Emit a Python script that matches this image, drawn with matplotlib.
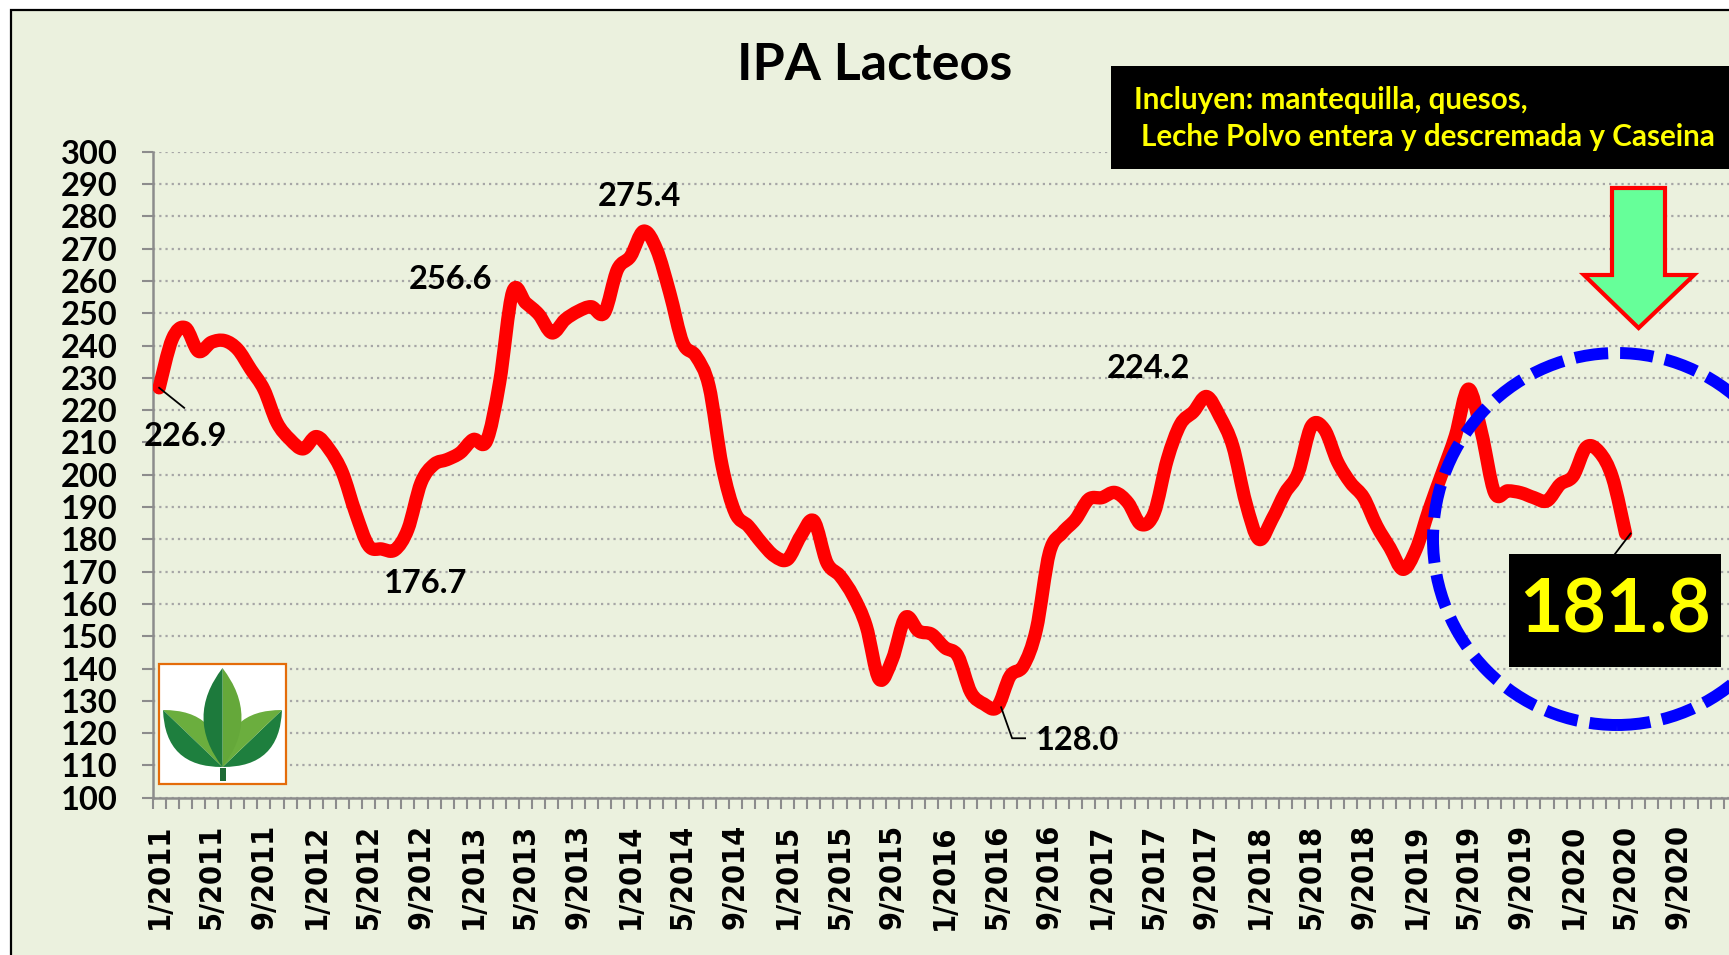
import numpy as np
import matplotlib
matplotlib.use('Agg')
import matplotlib.pyplot as plt
from matplotlib.path import Path
from matplotlib.patches import PathPatch, Rectangle, Ellipse, Polygon
from matplotlib.lines import Line2D
from matplotlib.transforms import IdentityTransform

W, H = 1729, 955

# IPA lacteos, mensual 1/2011 - 5/2020
ipa = [226.9, 242.0, 245.5, 238.2, 241.0, 241.5, 238.8, 232.6, 226.4, 216.1,
       210.9, 208.0, 211.8, 207.8, 200.6, 188.2, 178.0, 177.0, 176.7, 183.1,
       197.5, 203.2, 204.7, 206.8, 210.9, 210.4, 228.5, 256.6, 253.2, 249.6,
       243.9, 248.0, 250.6, 252.0, 250.1, 263.5, 267.6, 275.4, 269.7, 256.3,
       240.8, 236.7, 227.4, 202.7, 188.2, 184.1, 179.0, 174.8, 173.8, 181.0,
       185.7, 172.8, 168.7, 162.5, 153.2, 136.7, 142.9, 155.8, 151.6, 150.6,
       146.5, 143.9, 132.6, 129.0, 128.0, 137.7, 140.8, 152.1, 175.9, 182.1,
       186.2, 192.4, 192.9, 194.5, 191.3, 184.6, 188.2, 204.7, 215.6, 219.5,
       224.2, 218.1, 208.9, 191.3, 180.0, 186.2, 194.4, 200.6, 215.0, 214.0,
       204.0, 197.5, 192.9, 184.1, 177.4, 170.7, 176.9, 189.3, 200.6, 212.0,
       226.5, 213.0, 194.4, 195.0, 194.4, 192.9, 191.9, 197.0, 199.6, 208.5,
       207.0, 199.1, 181.8]

tick_labels = ['1/2011', '5/2011', '9/2011', '1/2012', '5/2012', '9/2012',
               '1/2013', '5/2013', '9/2013', '1/2014', '5/2014', '9/2014',
               '1/2015', '5/2015', '9/2015', '1/2016', '5/2016', '9/2016',
               '1/2017', '5/2017', '9/2017', '1/2018', '5/2018', '9/2018',
               '1/2019', '5/2019', '9/2019', '1/2020', '5/2020', '9/2020']
tick_step = 4

# puntos etiquetados: indice -> texto
point_labels = {0: '226.9', 18: '176.7', 27: '256.6', 37: '275.4', 64: '128.0', 80: '224.2'}
label_offsets = {0: (26, -49), 18: (31, -34), 27: (-62, 12), 37: (-4, 35), 64: (80, -33), 80: (-58, 28)}

bg = '#EBF1DE'


def fx(x):
    return x / W


def fy(y):
    return 1 - y / H


def smooth_path(xs, ys):
    pts = np.column_stack([xs, ys]).astype(float)
    n = len(pts)
    verts = [pts[0]]
    codes = [Path.MOVETO]
    for k in range(n - 1):
        p0 = pts[k - 1] if k > 0 else pts[k]
        p1 = pts[k]
        p2 = pts[k + 1]
        p3 = pts[k + 2] if k + 2 < n else pts[k + 1]
        verts += [p1 + (p2 - p0) / 6, p2 - (p3 - p1) / 6, p2]
        codes += [Path.CURVE4] * 3
    return Path(verts, codes)


fig = plt.figure(figsize=(W / 100, H / 100), dpi=100)
fig.patch.set_facecolor('white')

frame = Rectangle((fx(11), -0.05), 1.2, fy(10) + 0.05, transform=fig.transFigure,
                  facecolor=bg, edgecolor='black', lw=1.6, zorder=-5)
fig.add_artist(frame)

ax = fig.add_axes([fx(152.6), fy(797.7), (W - 152.6) / W, (797.7 - 151.7) / H])
ax.set_facecolor('none')
ax.set_xlim(-0.5, 119.9)
ax.set_ylim(100, 300)

for s in ['top', 'right']:
    ax.spines[s].set_visible(False)
for s in ['left', 'bottom']:
    ax.spines[s].set_color('#8C8C8C')
    ax.spines[s].set_linewidth(1.8)

ax.set_yticks(range(100, 301, 10))
ax.set_yticklabels([str(v) for v in range(100, 301, 10)],
                   fontfamily='Lato', fontweight='bold', fontsize=23.5)
ax.tick_params(axis='y', length=8, width=1.5, color='#8C8C8C', pad=17)

ax.set_xticks(np.arange(-0.5, 120, 1))
ax.set_xticklabels([])
ax.tick_params(axis='x', which='major', length=8, width=1.5, color='#8C8C8C')
ax.set_xticks(np.arange(0, len(tick_labels) * tick_step, tick_step), minor=True)
ax.set_xticklabels(tick_labels, minor=True, rotation=90, fontfamily='DejaVu Sans',
                   fontstretch='condensed', fontweight='bold', fontsize=22)
ax.tick_params(axis='x', which='minor', length=0, pad=19)

ax.yaxis.grid(True, color='#A6A6A6', linestyle=(0, (1, 1.8)), lw=1.6)
ax.set_axisbelow(True)

xs = np.arange(len(ipa))
line = PathPatch(smooth_path(xs, ipa), fill=False, edgecolor='#FF0000', lw=9.6,
                 capstyle='round', joinstyle='round', zorder=3)
ax.add_patch(line)

for i, txt in point_labels.items():
    ax.annotate(txt, xy=(i, ipa[i]), xytext=label_offsets[i], textcoords='offset pixels',
                ha='center', va='center', fontfamily='Lato', fontweight='bold',
                fontsize=23.5, zorder=6)


def add_px_line(pts, lw=1.3):
    p = np.array(pts, float)
    fig.add_artist(Line2D(p[:, 0], p[:, 1], transform=IdentityTransform(),
                          color='black', lw=lw, zorder=8))


# lineas guia de etiquetas
p0 = ax.transData.transform((0, ipa[0]))
add_px_line([p0, p0 + (25, -20)])
p64 = ax.transData.transform((64, ipa[64]))
add_px_line([p64 + (4, 0), p64 + (15, -31), p64 + (28, -31)])
pend = ax.transData.transform((len(ipa) - 1, ipa[-1]))
add_px_line([pend + (5, 0), pend + (-11, -21)])

# titulo
fig.text(fx(875), fy(66), 'IPA Lacteos', ha='center', va='center',
         fontfamily='Lato', fontweight='bold', fontsize=37.5)

# recuadro de texto
fig.add_artist(Rectangle((fx(1111), fy(169)), 0.5, (169 - 66) / H, transform=fig.transFigure,
                         facecolor='black', edgecolor='none', zorder=5))
fig.text(fx(1134), fy(100), 'Incluyen: mantequilla, quesos,', ha='left', va='center',
         color='#FFFF00', fontfamily='Lato', fontweight='bold', fontsize=21.3, zorder=6)
fig.text(fx(1141), fy(137), 'Leche Polvo entera y descremada y Caseina', ha='left', va='center',
         color='#FFFF00', fontfamily='Lato', fontweight='bold', fontsize=21.3, zorder=6)

# flecha
arrow_px = [(1612, 188), (1665, 188), (1665, 275), (1694, 275), (1638.6, 328),
            (1584, 275), (1612, 275)]
fig.add_artist(Polygon([(fx(x), fy(y)) for x, y in arrow_px], closed=True,
                       transform=fig.transFigure, facecolor='#66FF99',
                       edgecolor='#FF0000', lw=3, joinstyle='miter', zorder=5))

# circulo azul
fig.add_artist(Ellipse((fx(1617), fy(539)), 368 / W, 372 / H, transform=fig.transFigure,
                       fill=False, edgecolor='#0000FF', lw=8.6,
                       linestyle=(0, (2.8, 1.0)), zorder=5))

# ultimo valor
fig.add_artist(Rectangle((fx(1509), fy(667)), (1721 - 1509) / W, (667 - 554) / H,
                         transform=fig.transFigure, facecolor='black', edgecolor='none', zorder=6))
fig.text(fx(1615), fy(611), '181.8', ha='center', va='center', color='#FFFF00',
         fontfamily='Lato', fontweight='bold', fontsize=54, zorder=7)


# logo
def leaf(base, tip, half_w, col_a, col_b):
    b = np.array(base, float)
    t = np.array(tip, float)
    d = t - b
    n = np.array([-d[1], d[0]]) / np.hypot(*d)
    m = (b + t) / 2
    for side, col in ((1, col_a), (-1, col_b)):
        c = m + side * n * half_w * 2
        verts = [b, c, t, b]
        verts = [(fx(x), fy(y)) for x, y in verts]
        path = Path(verts, [Path.MOVETO, Path.CURVE3, Path.CURVE3, Path.LINETO])
        fig.add_artist(PathPatch(path, transform=fig.transFigure, facecolor=col,
                                 edgecolor='none', zorder=7))


fig.add_artist(Rectangle((fx(159), fy(784)), (286 - 159) / W, (784 - 664) / H,
                         transform=fig.transFigure, facecolor='white',
                         edgecolor='#E46C0A', lw=1.6, zorder=6))
fig.add_artist(Rectangle((fx(220), fy(781)), 6 / W, 13 / H, transform=fig.transFigure,
                         facecolor='#1E6B35', edgecolor='none', zorder=7))
leaf((222.5, 767), (163, 710), 20, '#6BAE3E', '#1E7F3E')
leaf((222.5, 767), (282, 710), 20, '#1E7F3E', '#6BAE3E')
leaf((222.5, 767), (222.5, 668), 19, '#65A83A', '#1D7A3C')

fig.savefig('out.png', dpi=100)
